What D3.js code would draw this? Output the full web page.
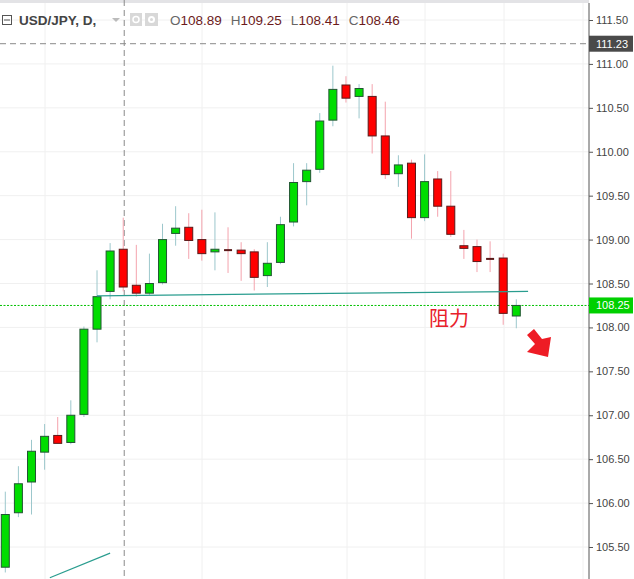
<!DOCTYPE html>
<html><head><meta charset="utf-8">
<script src="https://cdn.jsdelivr.net/npm/d3@7/dist/d3.min.js"></script>
<style>body{margin:0;background:#fff}svg{display:block;font-family:Arial,"Liberation Sans",sans-serif}</style>
</head><body><svg id="c" width="634" height="579"></svg>
<script>
const opens  =[105.27,105.89,106.24,106.58,106.77,106.69,107.01,107.98,108.41,108.89,108.48,108.39,108.51,109.07,109.14,109.00,108.86,108.88,108.88,108.86,108.59,108.74,109.20,109.66,109.80,110.36,110.76,110.63,110.63,110.18,109.75,109.87,109.25,109.69,109.38,108.93,108.92,108.78,108.79,108.13];
const highs  =[106.13,106.42,106.72,106.90,106.98,107.17,108.01,108.65,108.96,109.25,108.94,108.84,109.18,109.38,109.30,109.34,109.31,109.14,108.97,108.89,108.97,109.26,109.87,109.87,110.44,110.98,110.86,110.77,110.77,110.57,109.96,109.91,109.97,109.78,109.78,109.11,109.00,108.98,108.84,108.32];
const lows   =[105.21,105.84,105.87,106.38,106.68,106.67,106.98,107.83,108.32,108.41,108.35,108.37,108.49,108.93,108.78,108.76,108.65,108.62,108.53,108.42,108.46,108.72,109.15,109.39,109.76,110.29,110.56,110.38,109.98,109.69,109.60,109.01,109.21,109.26,109.03,108.78,108.63,108.63,108.03,107.99];
const closes =[105.87,106.22,106.59,106.76,106.68,107.00,107.98,108.35,108.87,108.46,108.39,108.50,109.00,109.13,108.99,108.84,108.89,108.87,108.84,108.57,108.73,109.17,109.65,109.79,110.35,110.71,110.61,110.72,110.18,109.74,109.85,109.25,109.66,109.38,109.06,108.90,108.75,108.77,108.16,108.25];
const yTicks=[105.5,106,106.5,107,107.5,108,108.5,109,109.5,110,110.5,111,111.5];
const ohlcHeader=[["O","108.89"],["H","109.25"],["L","108.41"],["C","108.46"]];
const lastPrice=108.25, crossPrice=111.23, crossIndex=9;
const trend1=[[7,108.36],[39.9,108.41]], trend2=[[3.4,105.15],[8,105.43]];

const svg=d3.select("#c");
const y=d3.scaleLinear().domain([105.5,111.5]).range([547,20]);
const x=d3.scaleLinear().domain([0,39]).range([5.3,516.3]);
const axisX=589;
const vgrid=[45,202,347,425,504,583];
svg.selectAll(".vg").data(vgrid).enter().append("line").attr("x1",d=>d).attr("x2",d=>d).attr("y1",0).attr("y2",579).attr("stroke","#f0f0f0");
svg.selectAll(".hg").data(yTicks).enter().append("line").attr("x1",0).attr("x2",axisX).attr("y1",d=>y(d)).attr("y2",d=>y(d)).attr("stroke","#f0f0f0");
svg.append("rect").attr("x",0).attr("y",0).attr("width",634).attr("height",3).attr("fill","#e3e3e6");
svg.append("line").attr("x1",x(crossIndex)+1).attr("x2",x(crossIndex)+1).attr("y1",0).attr("y2",579).attr("stroke","#8a8a8a").attr("stroke-dasharray","6,4");
svg.append("line").attr("x1",0).attr("x2",axisX).attr("y1",y(crossPrice)).attr("y2",y(crossPrice)).attr("stroke","#8a8a8a").attr("stroke-dasharray","6,4");
svg.append("line").attr("x1",0).attr("x2",axisX).attr("y1",y(lastPrice)).attr("y2",y(lastPrice)).attr("stroke","#00c000").attr("stroke-dasharray","2,1.5");
const data=opens.map((o,i)=>({i,o,h:highs[i],l:lows[i],c:closes[i]}));
const g=svg.append("g");
data.forEach(d=>{
  const up=d.c>=d.o, doji=Math.abs(d.c-d.o)<0.02;
  g.append("line").attr("x1",x(d.i)).attr("x2",x(d.i)).attr("y1",y(d.h)).attr("y2",y(d.l)).attr("stroke",up?"#9cc7cc":"#f4a3ad").attr("stroke-width",1);
  if(doji){g.append("rect").attr("x",x(d.i)-4).attr("width",8).attr("y",y(d.o)-1).attr("height",2).attr("fill","#5a1a1a");}
  else g.append("rect").attr("x",x(d.i)-4).attr("width",8).attr("y",y(Math.max(d.o,d.c))).attr("height",y(Math.min(d.o,d.c))-y(Math.max(d.o,d.c))).attr("fill",up?"#00dd00":"#ff0000").attr("stroke",up?"#225533":"#5a1a1a").attr("stroke-width",1);
});
[trend1,trend2].forEach(t=>svg.append("line").attr("x1",x(t[0][0])).attr("y1",y(t[0][1])).attr("x2",x(t[1][0])).attr("y2",y(t[1][1])).attr("stroke","#2a9d8f").attr("stroke-width",1.2));
svg.append("text").attr("x",429).attr("y",326).attr("fill","#e8202a").attr("font-size",20).attr("font-family","Noto Sans CJK SC").text("阻力");
svg.append("path").attr("d","M527,335 L534,329 L542,339 L551,337 L548,357 L527,352 L535,344 Z").attr("fill","#ee1c25");
svg.append("rect").attr("x",axisX).attr("y",0).attr("width",45).attr("height",579).attr("fill","#fff");
svg.append("line").attr("x1",axisX).attr("x2",axisX).attr("y1",3).attr("y2",579).attr("stroke","#555");
const ax=d3.axisRight(y).tickValues(yTicks).tickFormat(d3.format(".2f")).tickSize(4).tickPadding(3);
const ag=svg.append("g").attr("transform",`translate(${axisX},0)`).call(ax);
ag.select(".domain").remove();
ag.selectAll("line").attr("stroke","#555");
ag.selectAll("text").attr("fill","#444").attr("font-size",11).attr("font-family","Arial,Liberation Sans");
function tag(v,bg){const gg=svg.append("g");gg.append("rect").attr("x",axisX).attr("y",y(v)-8).attr("width",44).attr("height",16).attr("fill",bg);
 gg.append("text").attr("x",axisX+7).attr("y",y(v)+4).attr("fill","#fff").attr("font-size",11).text(v.toFixed(2));}
tag(crossPrice,"#4a4a4a");tag(lastPrice,"#00d000");
const hd=svg.append("g");
hd.append("rect").attr("x",2.5).attr("y",15.5).attr("width",9).attr("height",9).attr("fill","none").attr("stroke","#555");
hd.append("line").attr("x1",4).attr("x2",10).attr("y1",20).attr("y2",20).attr("stroke","#555");
hd.append("text").attr("x",19).attr("y",25).attr("font-size",13.5).attr("font-weight","bold").attr("fill","#444").text("USD/JPY, D,");
hd.append("path").attr("d","M112,18 L120,18 L116,22 Z").attr("fill","#bbb");
hd.append("rect").attr("x",130).attr("y",13).attr("width",12).attr("height",13).attr("fill","#d8d8d8");
hd.append("circle").attr("cx",136).attr("cy",19.5).attr("r",3).attr("fill","none").attr("stroke","#fff").attr("stroke-width",1.5);
hd.append("rect").attr("x",145).attr("y",13).attr("width",13).attr("height",13).attr("fill","#d8d8d8");
hd.append("circle").attr("cx",151.5).attr("cy",19.5).attr("r",3.5).attr("fill","#fff");
hd.append("circle").attr("cx",151.5).attr("cy",19.5).attr("r",1.5).attr("fill","#d8d8d8");
const ht=hd.append("text").attr("x",170).attr("y",25).attr("font-size",13.5);
ohlcHeader.forEach(([k,v],i)=>{ht.append("tspan").attr("dx",i?9:0).attr("fill","#666").text(k);ht.append("tspan").attr("fill","#6b1a1a").text(v);});
</script></body></html>
